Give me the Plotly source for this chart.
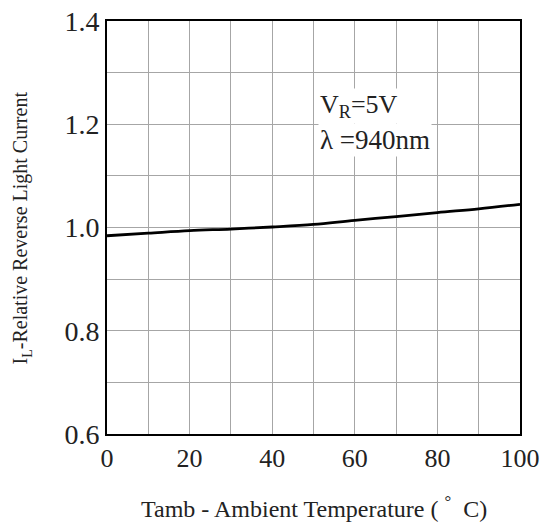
import plotly.graph_objects as go

temperature = [0, 10, 20, 30, 40, 50, 60, 70, 80, 90, 100]
relative_current = [0.984, 0.989, 0.994, 0.997, 1.001, 1.006, 1.014, 1.021, 1.029, 1.036, 1.045]
x_ticks = [0, 20, 40, 60, 80, 100]
y_ticks = [0.6, 0.8, 1.0, 1.2, 1.4]
y_tick_labels = ["0.6", "0.8", "1.0", "1.2", "1.4"]

FONT = "Liberation Serif, Times New Roman, serif"
GRID = "#a6a6a6"

fig = go.Figure()
fig.add_trace(go.Scatter(
    x=temperature, y=relative_current, mode="lines",
    line=dict(color="black", width=2.8, shape="spline", smoothing=1.0),
    showlegend=False, hoverinfo="skip",
))

fig.update_layout(
    width=549, height=525,
    margin=dict(l=107, r=29, t=21, b=91, autoexpand=False),
    paper_bgcolor="white", plot_bgcolor="white",
    font=dict(family=FONT, color="#222222"),
)
fig.update_xaxes(
    range=[0, 100], tickvals=x_ticks, showgrid=True, gridcolor=GRID, gridwidth=1,
    minor=dict(dtick=10, showgrid=True, gridcolor=GRID, gridwidth=1),
    showline=True, linecolor="black", linewidth=2, mirror=True, automargin=False,
    ticks="", tickfont=dict(size=26, family=FONT), zeroline=False,
)
fig.update_yaxes(
    range=[0.6, 1.4], tickvals=y_ticks, ticktext=y_tick_labels,
    showgrid=True, gridcolor=GRID, gridwidth=1,
    minor=dict(dtick=0.1, showgrid=True, gridcolor=GRID, gridwidth=1),
    showline=True, linecolor="black", linewidth=2, mirror=True, automargin=False,
    ticks="", tickfont=dict(size=28, family=FONT), zeroline=False,
)

fig.add_annotation(
    text="Tamb - Ambient Temperature ( <sup>°</sup>  C)", xref="paper", yref="paper",
    x=0.5, y=-0.177, showarrow=False, font=dict(size=24, family=FONT),
    xanchor="center", yanchor="middle",
)
fig.add_annotation(
    text="I<sub>L</sub>-Relative Reverse Light Current", xref="paper", yref="paper",
    x=-0.206, y=0.5, textangle=-90, showarrow=False, font=dict(size=20, family=FONT),
    xanchor="center", yanchor="middle",
)
fig.add_annotation(
    text="V<sub>R</sub>=5V", x=51.1, y=1.235, xanchor="left", yanchor="middle",
    showarrow=False, font=dict(size=26, family=FONT), bgcolor="white",
)
fig.add_annotation(
    text="λ =940nm", x=51.1, y=1.1695, xanchor="left", yanchor="middle",
    showarrow=False, font=dict(size=27, family=FONT), bgcolor="white",
)

fig.write_html("out.html", config={"displayModeBar": False},
               post_script="document.body.style.margin='0';")
